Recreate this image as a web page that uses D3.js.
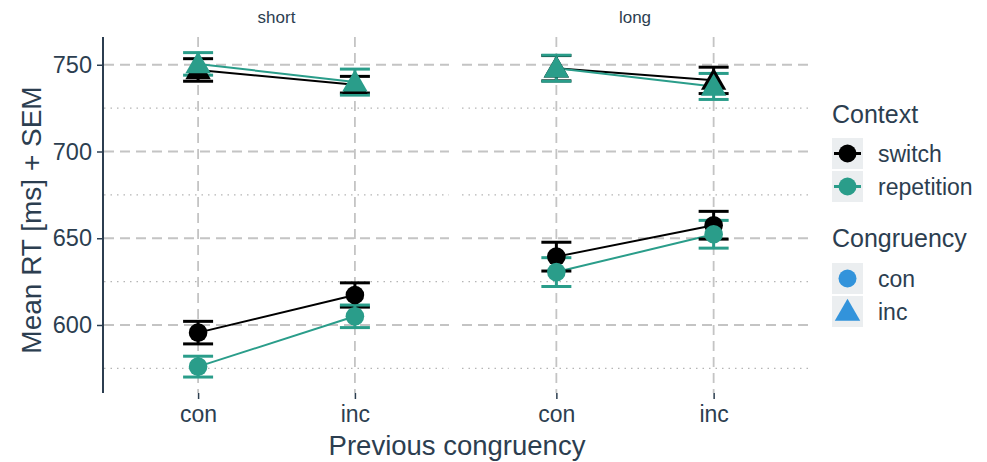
<!DOCTYPE html>
<html>
<head>
<meta charset="utf-8">
<script src="https://cdn.jsdelivr.net/npm/d3@7"></script>
<style>
  body { margin: 0; background: #fff; }
  text { font-family: "Liberation Sans", Arial, sans-serif; fill: #2c3e50; }
</style>
</head>
<body>
<svg width="987" height="462"></svg>
<script>
// data
var panels = ["short", "long"];
var prevCong = ["con", "inc"];
var contexts = ["switch", "repetition"];
var congruency = ["con", "inc"];

// mean RT per panel / congruency / context, ordered con, inc (previous congruency)
var meanShortConSwitch = [595.6, 617.3];
var meanShortConRep    = [576.0, 605.0];
var meanShortIncSwitch = [747.0, 738.5];
var meanShortIncRep    = [750.5, 740.0];
var meanLongConSwitch  = [639.4, 657.5];
var meanLongConRep     = [630.5, 652.3];
var meanLongIncSwitch  = [748.0, 741.0];
var meanLongIncRep     = [748.0, 737.5];

var semShortConSwitch = [6.5, 7.0];
var semShortConRep    = [6.0, 6.5];
var semShortIncSwitch = [6.5, 4.8];
var semShortIncRep    = [6.5, 7.5];
var semLongConSwitch  = [8.3, 8.0];
var semLongConRep     = [8.3, 8.0];
var semLongIncSwitch  = [7.3, 7.6];
var semLongIncRep     = [7.5, 7.5];

var yTicks = [600, 650, 700, 750];
var yMinor = [575, 625, 675, 725];

var colors = { "switch": "#000000", "repetition": "#2a9d8a" };

var series = [
  { panel: "short", cong: "con", ctx: "switch", m: meanShortConSwitch, s: semShortConSwitch },
  { panel: "short", cong: "inc", ctx: "switch", m: meanShortIncSwitch, s: semShortIncSwitch },
  { panel: "long",  cong: "con", ctx: "switch", m: meanLongConSwitch,  s: semLongConSwitch },
  { panel: "long",  cong: "inc", ctx: "switch", m: meanLongIncSwitch,  s: semLongIncSwitch },
  { panel: "short", cong: "con", ctx: "repetition", m: meanShortConRep, s: semShortConRep },
  { panel: "short", cong: "inc", ctx: "repetition", m: meanShortIncRep, s: semShortIncRep },
  { panel: "long",  cong: "con", ctx: "repetition", m: meanLongConRep,  s: semLongConRep },
  { panel: "long",  cong: "inc", ctx: "repetition", m: meanLongIncRep,  s: semLongIncRep }
];

var svg = d3.select("svg");
var yTop = 37, yBottom = 393;
var panelX = { "short": [104, 449], "long": [462, 808] };

var y = d3.scaleLinear().domain([560.8, 766]).range([yBottom, yTop]);

var triangle = d3.symbol().type(d3.symbolTriangle).size(280);

panels.forEach(function(p) {
  var x = d3.scalePoint().domain(prevCong).range(panelX[p]).padding(0.6);
  var g = svg.append("g");

  // grid
  g.selectAll(".minor").data(yMinor).enter().append("line")
    .attr("x1", panelX[p][0]).attr("x2", panelX[p][1])
    .attr("y1", y).attr("y2", y)
    .attr("stroke", "#b5b5b5").attr("stroke-width", 1.3)
    .attr("stroke-dasharray", "1.5,5");
  g.selectAll(".major").data(yTicks).enter().append("line")
    .attr("x1", panelX[p][0]).attr("x2", panelX[p][1])
    .attr("y1", y).attr("y2", y)
    .attr("stroke", "#c4c4c4").attr("stroke-width", 1.8)
    .attr("stroke-dasharray", "10,6");
  g.selectAll(".vgrid").data(prevCong).enter().append("line")
    .attr("x1", x).attr("x2", x)
    .attr("y1", yTop).attr("y2", yBottom)
    .attr("stroke", "#c4c4c4").attr("stroke-width", 1.8)
    .attr("stroke-dasharray", "10,6");

  // x axis (ticks only, no line)
  var xa = g.append("g").attr("transform", "translate(0," + yBottom + ")")
    .call(d3.axisBottom(x).tickSize(6).tickPadding(7));
  xa.select(".domain").remove();
  xa.selectAll(".tick line").attr("stroke", "#2c3e50").attr("stroke-width", 1.5);
  xa.selectAll("text").attr("font-size", 23).attr("fill", "#2c3e50")
    .style("font-family", "'Liberation Sans', Arial, sans-serif");

  // strip label
  g.append("text").attr("x", (panelX[p][0] + panelX[p][1]) / 2).attr("y", 23)
    .attr("text-anchor", "middle").attr("font-size", 17).text(p);

  var ps = series.filter(function(d) { return d.panel === p; });
  var line = d3.line().x(function(d, i) { return x(prevCong[i]); }).y(function(d) { return y(d); });

  ps.forEach(function(d) {
    g.append("path").datum(d.m).attr("d", line)
      .attr("fill", "none").attr("stroke", colors[d.ctx]).attr("stroke-width", 2);
  });
  ps.forEach(function(d) {
    d.m.forEach(function(v, i) {
      var cx = x(prevCong[i]);
      var eb = g.append("g").attr("stroke", colors[d.ctx]).attr("stroke-width", 3);
      eb.append("line").attr("x1", cx).attr("x2", cx).attr("y1", y(v - d.s[i])).attr("y2", y(v + d.s[i]));
      [v - d.s[i], v + d.s[i]].forEach(function(e) {
        eb.append("line").attr("x1", cx - 15).attr("x2", cx + 15).attr("y1", y(e)).attr("y2", y(e));
      });
    });
  });
  ps.forEach(function(d) {
    d.m.forEach(function(v, i) {
      var cx = x(prevCong[i]);
      if (d.cong === "con") {
        g.append("circle").attr("cx", cx).attr("cy", y(v)).attr("r", 9.3).attr("fill", colors[d.ctx]);
      } else {
        g.append("path").attr("d", triangle).attr("transform", "translate(" + cx + "," + (y(v) + 2) + ")")
          .attr("fill", colors[d.ctx]);
      }
    });
  });
});

// y axis
var ya = svg.append("g").attr("transform", "translate(103,0)")
  .call(d3.axisLeft(y).tickValues(yTicks).tickSize(6).tickPadding(5));
ya.select(".domain").attr("stroke", "#2c3e50").attr("stroke-width", 2).attr("d", "M0," + yTop + "V" + yBottom);
ya.selectAll(".tick line").attr("stroke", "#2c3e50").attr("stroke-width", 1.5);
ya.selectAll("text").attr("font-size", 23.5).attr("fill", "#2c3e50")
  .style("font-family", "'Liberation Sans', Arial, sans-serif");

svg.append("text").attr("transform", "translate(41,220) rotate(-90)")
  .attr("text-anchor", "middle").attr("font-size", 28).text("Mean RT [ms] + SEM");
svg.append("text").attr("x", 457).attr("y", 455)
  .attr("text-anchor", "middle").attr("font-size", 27.5).text("Previous congruency");

// legend
var lg = svg.append("g").attr("transform", "translate(832,0)");
lg.append("text").attr("x", 0).attr("y", 123).attr("font-size", 25).text("Context");
contexts.forEach(function(c, i) {
  var ky = 138 + i * 33;
  lg.append("rect").attr("x", 0).attr("y", ky).attr("width", 31).attr("height", 31).attr("fill", "#ebeef0");
  lg.append("line").attr("x1", 2).attr("x2", 29).attr("y1", ky + 15.5).attr("y2", ky + 15.5)
    .attr("stroke", colors[c]).attr("stroke-width", 3);
  lg.append("circle").attr("cx", 15.5).attr("cy", ky + 15.5).attr("r", 9).attr("fill", colors[c]);
  lg.append("text").attr("x", 46).attr("y", ky + 24).attr("font-size", 23).text(c);
});
lg.append("text").attr("x", 0).attr("y", 247).attr("font-size", 25).text("Congruency");
congruency.forEach(function(c, i) {
  var ky = 263 + i * 33;
  lg.append("rect").attr("x", 0).attr("y", ky).attr("width", 31).attr("height", 31).attr("fill", "#ebeef0");
  if (c === "con") {
    lg.append("circle").attr("cx", 15.5).attr("cy", ky + 15.5).attr("r", 9).attr("fill", "#3293db");
  } else {
    lg.append("path").attr("d", triangle).attr("transform", "translate(15.5," + (ky + 17.5) + ")").attr("fill", "#3293db");
  }
  lg.append("text").attr("x", 46).attr("y", ky + 24).attr("font-size", 23).text(c);
});
</script>
</body>
</html>
